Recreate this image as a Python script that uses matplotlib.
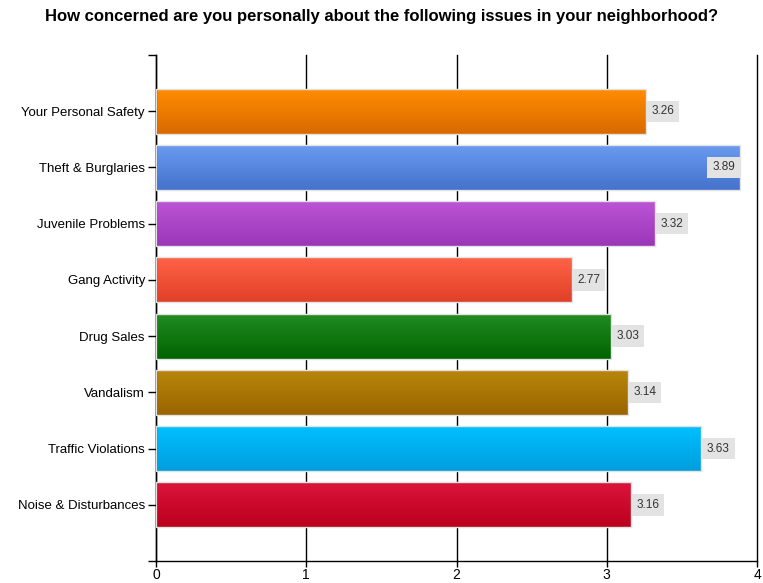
import numpy as np
import matplotlib
matplotlib.use("Agg")
import matplotlib.pyplot as plt
from matplotlib.colors import LinearSegmentedColormap
from matplotlib.ticker import FixedLocator

plt.rcParams["font.family"] = ["Liberation Sans", "DejaVu Sans"]

issues = [
    "Your Personal Safety",
    "Theft & Burglaries",
    "Juvenile Problems",
    "Gang Activity",
    "Drug Sales",
    "Vandalism",
    "Traffic Violations",
    "Noise & Disturbances",
]
scores = [3.26, 3.89, 3.32, 2.77, 3.03, 3.14, 3.63, 3.16]

# top / bottom colour of each bar's gradient
top_colors = ["#ff8c00", "#6a9bf0", "#bb55d6", "#ff6347", "#228b22", "#b8860b", "#00bfff", "#dc143c"]
bottom_colors = ["#d96a00", "#4472cc", "#9a36b8", "#e04028", "#006400", "#9a6400", "#009ede", "#bb001c"]

fig = plt.figure(figsize=(7.63, 5.83), dpi=100)
ax = fig.add_axes([156 / 763, 1 - 561 / 583, 601 / 763, 506 / 583])

y = np.arange(len(issues))
bars = ax.barh(y, scores, height=0.8, facecolor="none",
               edgecolor="#e2e2e2", linewidth=1.0, zorder=3)

for bar, c_top, c_bot in zip(bars, top_colors, bottom_colors):
    cmap = LinearSegmentedColormap.from_list("g", [c_top, c_bot])
    x0, y0 = bar.get_x(), bar.get_y()
    w, h = bar.get_width(), bar.get_height()
    grad = np.linspace(0, 1, 64).reshape(-1, 1)
    im = ax.imshow(grad, cmap=cmap, aspect="auto", origin="upper",
                   extent=[x0, x0 + w, y0 + h, y0], zorder=2)
    im.set_clip_path(bar)

for yi, v in zip(y, scores):
    inside = v > 3.8
    ax.annotate(f"{v:.2f}", xy=(v, yi),
                xytext=(-4 if inside else 4, 0), textcoords="offset points",
                ha="right" if inside else "left", va="center",
                fontsize=8.5, color="#333333", zorder=5,
                bbox=dict(boxstyle="square,pad=0.4", facecolor="#e3e3e3",
                          edgecolor="none"))

ax.set_xlim(0, 4)
ax.set_ylim(8, -1)
ax.set_xticks([0, 1, 2, 3, 4])
ax.set_yticks(y)
ax.set_yticklabels(issues)
ax.yaxis.set_minor_locator(FixedLocator([-1, 8]))
ax.tick_params(axis="y", which="both", length=6, width=1, labelsize=9.5,
               color="black", pad=2)
ax.tick_params(axis="x", length=4, width=1, labelsize=10, pad=1)

ax.grid(axis="x", color="black", linewidth=1, zorder=0)
for gl in ax.get_xgridlines():
    gl.set_clip_on(False)
ax.set_axisbelow(True)
for s in ("top", "right"):
    ax.spines[s].set_visible(False)
for s in ("left", "bottom"):
    ax.spines[s].set_linewidth(1)

fig.text(0.5, 1 - 17 / 583, "How concerned are you personally about the following issues in your neighborhood?",
         ha="center", va="center", fontsize=12, fontweight="bold")

fig.savefig("out.png", dpi=100)
